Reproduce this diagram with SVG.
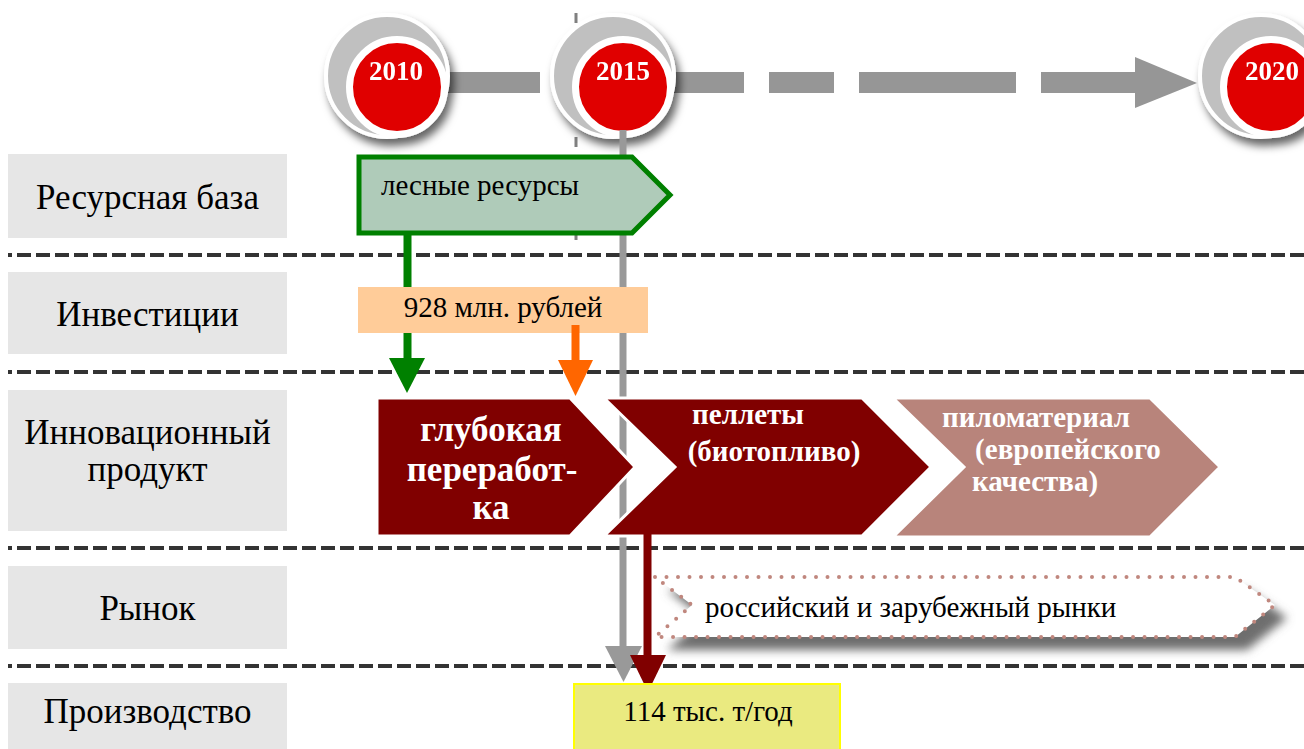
<svg xmlns="http://www.w3.org/2000/svg" width="1304" height="749" viewBox="0 0 1304 749">
  <defs>
    <style>
      text { font-family: "Liberation Serif", "DejaVu Serif", serif; }
      .lbl { fill: #e6e6e6; }
      .lbltxt { font-size: 35px; fill: #000; text-anchor: middle; }
      .sep { stroke: #333; stroke-width: 4; stroke-dasharray: 14 5; stroke-dashoffset: 10; fill: none; }
      .year { font-size: 27px; font-weight: bold; fill: #fff; text-anchor: middle; }
      .ring { fill: #c0c0c0; stroke: #fff; stroke-width: 4; }
      .core { fill: #e00000; stroke: #fff; stroke-width: 7; }
      .bar { fill: #969696; }
      .prod { font-weight: bold; fill: #fff; text-anchor: middle; font-size: 29px; }
      .big { font-size: 35px; }
      .body { fill: #000; font-size: 29px; }
    </style>
    <filter id="discShadow" x="-30%" y="-30%" width="170%" height="170%">
      <feDropShadow dx="4" dy="7" stdDeviation="4" flood-color="#000" flood-opacity="0.6"/>
    </filter>
    <filter id="soft" x="-10%" y="-50%" width="120%" height="200%">
      <feGaussianBlur stdDeviation="5"/>
    </filter>
  </defs>

  <rect width="1304" height="749" fill="#fff"/>

  <!-- row labels -->
  <g id="row-resources">
    <rect class="lbl" x="8" y="154" width="279" height="84"/>
    <text class="lbltxt" x="147.5" y="209">Ресурсная база</text>
  </g>
  <g id="row-investments">
    <rect class="lbl" x="8" y="272" width="279" height="82"/>
    <text class="lbltxt" x="147.5" y="326">Инвестиции</text>
  </g>
  <g id="row-product">
    <rect class="lbl" x="8" y="390" width="279" height="141"/>
    <text class="lbltxt" x="147.5" y="444">Инновационный</text>
    <text class="lbltxt" x="147.5" y="481">продукт</text>
  </g>
  <g id="row-market">
    <rect class="lbl" x="8" y="566" width="279" height="83"/>
    <text class="lbltxt" x="147.5" y="620">Рынок</text>
  </g>
  <g id="row-production">
    <rect class="lbl" x="8" y="683" width="279" height="66"/>
    <text class="lbltxt" x="147.5" y="723">Производство</text>
  </g>

  <!-- row separators -->
  <g id="separators">
    <line class="sep" x1="8" y1="255" x2="1304" y2="255"/>
    <line class="sep" x1="8" y1="372" x2="1304" y2="372"/>
    <line class="sep" x1="8" y1="548" x2="1304" y2="548"/>
    <line class="sep" x1="8" y1="666" x2="1304" y2="666"/>
  </g>

  <!-- timeline axis -->
  <g id="timeline">
    <rect class="bar" x="440" y="72" width="100" height="21"/>
    <rect class="bar" x="660" y="72" width="84" height="21"/>
    <rect class="bar" x="769" y="72" width="65" height="21"/>
    <rect class="bar" x="859" y="72" width="157" height="21"/>
    <rect class="bar" x="1041" y="72" width="95" height="21"/>
    <polygon class="bar" points="1135,57 1197,83 1135,108"/>
    <line x1="576" y1="13" x2="576" y2="240" stroke="#808080" stroke-width="3" stroke-dasharray="10 21"/>
  </g>

  <!-- year markers -->
  <g id="y2010" filter="url(#discShadow)">
    <circle class="ring" cx="387" cy="76" r="61"/>
    <circle class="core" cx="397" cy="87" r="47.5"/>
    <text class="year" x="396" y="80">2010</text>
  </g>
  <g id="y2015" filter="url(#discShadow)">
    <circle class="ring" cx="613" cy="76" r="61"/>
    <circle class="core" cx="623" cy="87" r="47.5"/>
    <text class="year" x="623" y="80">2015</text>
  </g>
  <g id="y2020" filter="url(#discShadow)">
    <circle class="ring" cx="1261" cy="76" r="61"/>
    <circle class="core" cx="1271" cy="87" r="47.5"/>
    <text class="year" x="1272" y="80">2020</text>
  </g>

  <!-- connectors -->
  <g id="connectors">
    <!-- 2015 reference line down to production -->
    <rect x="619.5" y="130" width="7" height="518" fill="#999"/>
    <polygon points="605,646 642,646 623.5,682" fill="#999"/>
    <!-- forest resources to processing -->
    <rect x="403.5" y="235" width="8" height="125" fill="#008000"/>
    <polygon points="389,358 425,358 407,393" fill="#008000"/>
  </g>

  <!-- forest resources -->
  <g id="forest">
    <polygon points="359,157 632,157 670,195 632,233 359,233" fill="#afcbb9" stroke="#008000" stroke-width="5"/>
    <text class="body" x="381" y="195">лесные ресурсы</text>
  </g>

  <!-- investment volume -->
  <g id="investment">
    <rect x="358" y="287" width="290" height="46" fill="#ffcc99"/>
    <text class="body" x="503" y="317" text-anchor="middle">928 млн. рублей</text>
  </g>

  <g id="invest-arrow">
    <rect x="571.5" y="325" width="8" height="37" fill="#ff6600"/>
    <polygon points="558,360 593,360 575.5,396" fill="#ff6600"/>
  </g>

  <!-- product chevrons -->
  <g id="processing">
    <polygon points="377,398 570,398 635,467 570,536 377,536" fill="#800000" stroke="#fff" stroke-width="3"/>
    <text class="prod big" x="491" y="441">глубокая</text>
    <text class="prod big" x="492" y="481">переработ-</text>
    <text class="prod big" x="491" y="519">ка</text>
  </g>
  <g id="pellets">
    <polygon points="604,398 862,398 931,467 862,536 604,536 675,467" fill="#800000" stroke="#fff" stroke-width="3"/>
    <text class="prod" x="748" y="424">пеллеты</text>
    <text class="prod" x="774" y="461">(биотопливо)</text>
  </g>
  <g id="lumber">
    <polygon points="893,398 1150,398 1220,467 1150,537 893,537 964,467" fill="#b8847b" stroke="#fff" stroke-width="3"/>
    <text class="prod" x="1036" y="427">пиломатериал</text>
    <text class="prod" x="1068" y="459">(европейского</text>
    <text class="prod" x="1035" y="491">качества)</text>
  </g>

  <g id="pellets-arrow">
    <rect x="643.5" y="530" width="8" height="127" fill="#800000"/>
    <polygon points="630,655 666,655 648,692" fill="#800000"/>
  </g>

  <!-- market -->
  <g id="market">
    <polygon points="667,590 1247,590 1287,618 1247,650 667,650 704,618" fill="#6e6e6e" filter="url(#soft)"/>
    <polygon points="655,577 1235,577 1275,605 1235,637 655,637 692,605" fill="#fff" stroke="#c0877e" stroke-width="4" stroke-linecap="round" stroke-dasharray="0 11.5"/>
    <text class="body" x="705" y="617">российский и зарубежный рынки</text>
  </g>

  <!-- production volume -->
  <g id="production">
    <rect x="574" y="684" width="266" height="70" fill="#eaea80" stroke="#ffff00" stroke-width="2"/>
    <text class="body" x="708" y="721" text-anchor="middle">114 тыс. т/год</text>
  </g>
</svg>
